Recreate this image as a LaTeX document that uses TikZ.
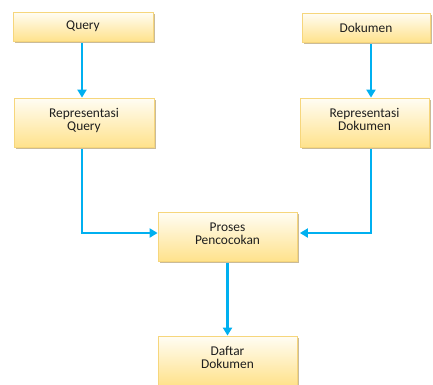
\documentclass[tikz,border=0pt]{standalone}
\usepackage{fontspec}
\setmainfont{Carlito}
\usetikzlibrary{shadows,arrows.meta}
\definecolor{boxtop}{HTML}{FFFDF4}
\definecolor{boxbot}{HTML}{FFE28C}
\definecolor{boxline}{HTML}{F6D67C}
\definecolor{shade}{HTML}{C4B48E}
\definecolor{arrowc}{HTML}{00B0F0}
\definecolor{txt}{HTML}{1E1E1E}
\begin{document}
\begin{tikzpicture}[x=1pt,y=-1pt,
  box/.style={draw=boxline,line width=0.8pt,top color=boxtop,bottom color=boxbot,
    inner sep=0pt,align=center,text=txt,font=\fontsize{13.4}{13.3}\selectfont,
    drop shadow={shadow xshift=1.8pt,shadow yshift=-1.8pt,fill=shade,opacity=0.9}},
  onebox/.style={box,minimum height=29pt},
  twobox/.style={box,minimum height=49pt,text depth=6pt},
  conn/.style={draw=arrowc,line width=2.6pt,-{Triangle[width=9pt,length=8pt]}}]
\useasboundingbox (0,0) rectangle (433,384);
\clip (0,0) rectangle (433,384);
\node[onebox,minimum width=140pt] (q) at (83,26.5) {Query};
\node[onebox,minimum width=128pt] (d) at (366,27.5) {Dokumen};
\node[twobox,minimum width=140pt] (rq) at (84,122.5) {Representasi\\Query};
\node[twobox,minimum width=129pt] (rd) at (364.5,122.5) {Representasi\\Dokumen};
\node[twobox,minimum width=139pt] (p) at (227.5,236.5) {Proses\\Pencocokan};
\node[twobox,minimum width=139pt] (df) at (227.5,360.5) {Daftar\\Dokumen};
\draw[conn] ([xshift=-1pt,yshift=-2pt]q.south) -- ([xshift=-2pt]rq.north);
\draw[conn] ([xshift=5pt,yshift=-2pt]d.south) -- ([xshift=6.5pt]rd.north);
\draw[conn] ([xshift=-2pt,yshift=-2pt]rq.south) |- ([yshift=3.5pt]p.west);
\draw[conn] ([xshift=6.5pt,yshift=-2pt]rd.south) |- ([xshift=2.5pt,yshift=3.5pt]p.east);
\draw[conn] ([yshift=-2pt]p.south) -- (df.north);
\end{tikzpicture}
\end{document}
